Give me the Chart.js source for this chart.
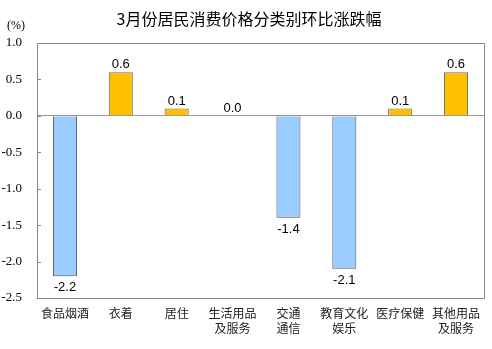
<!DOCTYPE html>
<html>
<head>
<meta charset="utf-8">
<script src="https://cdn.jsdelivr.net/npm/chart.js@4/dist/chart.umd.min.js"></script>
<style>
  html, body { margin: 0; padding: 0; background: #fff; }
  #wrap { width: 492px; height: 349px; position: relative; }
</style>
</head>
<body>
<div id="wrap"><canvas id="cpiChart"></canvas></div>
<script>
// 3月份分类别环比数据 (%)
const categories = [
  "食品烟酒", "衣着", "居住", ["生活用品", "及服务"],
  ["交通", "通信"], ["教育文化", "娱乐"], "医疗保健", ["其他用品", "及服务"]
];
const momChange = [-2.2, 0.6, 0.1, 0.0, -1.4, -2.1, 0.1, 0.6];
const yTicks = [1.0, 0.5, 0.0, -0.5, -1.0, -1.5, -2.0, -2.5];

const titleText = "3月份居民消费价格分类别环比涨跌幅";
const UP_FILL = "#FFC000", DOWN_FILL = "#99CCFF";

// 标题、单位、外框、内侧刻度和数值标签
const decorPlugin = {
  id: "decor",
  afterDraw(chart) {
    const ctx = chart.ctx;
    const a = chart.chartArea;
    ctx.save();

    ctx.fillStyle = "#000";
    ctx.font = '16px "Noto Sans CJK SC"';
    ctx.textAlign = "center";
    ctx.textBaseline = "middle";
    ctx.fillText(titleText, 249, 19);

    ctx.font = '12px "Liberation Serif"';
    ctx.fillText("(%)", 16, 26);

    // 外框
    const L = Math.round(a.left), T = Math.round(a.top);
    const R = Math.round(a.right), B = Math.round(a.bottom);
    ctx.fillStyle = "#888";
    ctx.fillRect(L, T, R - L + 1, 1);
    ctx.fillRect(L, B, R - L + 1, 1);
    ctx.fillRect(L, T, 1, B - T + 1);
    ctx.fillRect(R, T, 1, B - T + 1);

    // 内侧刻度
    const y = chart.scales.y;
    y.ticks.forEach(t => {
      ctx.fillRect(L, Math.round(y.getPixelForValue(t.value)), 4, 1);
    });

    // 数值标签
    ctx.fillStyle = "#000";
    ctx.font = '13px "Liberation Sans"';
    const meta = chart.getDatasetMeta(0);
    meta.data.forEach((bar, i) => {
      const v = momChange[i];
      if (v >= 0) {
        ctx.textBaseline = "bottom";
        ctx.fillText(v.toFixed(1), bar.x, bar.y - 1);
      } else {
        ctx.textBaseline = "top";
        ctx.fillText(v.toFixed(1), bar.x, bar.y + 5);
      }
    });
    ctx.restore();
  }
};

new Chart(document.getElementById("cpiChart"), {
  type: "bar",
  data: {
    labels: categories,
    datasets: [{
      data: momChange,
      backgroundColor: momChange.map(v => v >= 0 ? UP_FILL : DOWN_FILL),
      borderColor: momChange.map(v => v >= 0 ? "#6b6b55" : "#555"),
      borderWidth: 1,
      barPercentage: 0.43,
      categoryPercentage: 1
    }]
  },
  options: {
    responsive: true,
    maintainAspectRatio: false,
    animation: false,
    layout: { padding: { left: 2, right: 8, top: 43, bottom: 0 } },
    plugins: {
      legend: { display: false },
      title: { display: false },
      tooltip: { enabled: false }
    },
    scales: {
      x: {
        grid: { display: false, drawTicks: false },
        border: { display: false },
        afterFit(scale) { scale.height = 51; },
        ticks: {
          color: "#222",
          font: { family: '"Noto Sans CJK SC"', size: 12, lineHeight: 1.25 },
          padding: 8,
          maxRotation: 0,
          autoSkip: false
        }
      },
      y: {
        min: -2.5,
        max: 1.0,
        afterBuildTicks(scale) {
          scale.ticks = yTicks.map(v => ({ value: v }));
        },
        afterFit(scale) { scale.width = 35; },
        border: { display: false },
        grid: {
          drawTicks: false,
          color: ctx => ctx.tick && ctx.tick.value === 0 ? "#999" : "rgba(0,0,0,0)"
        },
        ticks: {
          color: "#000",
          font: { family: '"Liberation Serif", serif', size: 13 },
          padding: 15,
          callback: v => v.toFixed(1)
        }
      }
    }
  },
  plugins: [decorPlugin]
});
</script>
</body>
</html>
